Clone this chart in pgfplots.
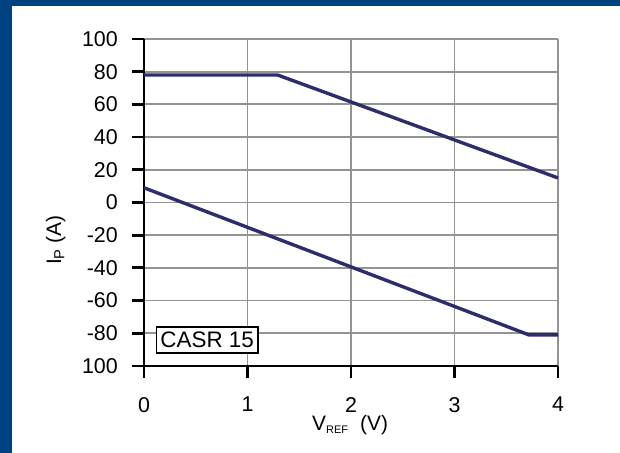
\documentclass[border=0pt]{standalone}
\usepackage{pgfplots}
\pgfplotsset{compat=1.18}
\usepackage{fontspec}
\setmainfont{Liberation Sans}
\definecolor{frameblue}{RGB}{0,66,128}
\definecolor{navy}{RGB}{45,45,110}
\begin{document}
\begin{tikzpicture}[x=1bp,y=1bp]
\useasboundingbox (0,0) rectangle (620,453);
\fill[white] (0,0) rectangle (620,453);
\fill[frameblue] (0,447) rectangle (620,453);
\fill[frameblue] (0,0) rectangle (12,453);
\begin{axis}[
  at={(144bp,87bp)}, anchor=south west,
  scale only axis, width=414bp, height=327bp,
  xmin=0, xmax=4, ymin=-100, ymax=100,
  axis lines=left, axis line style={-, black, line width=2.8bp},
  xtick={0,1,2,3,4}, xticklabels={0,1,2,3,4},
  ytick={-100,-80,-60,-40,-20,0,20,40,60,80,100},
  yticklabels={100,-80,-60,-40,-20,0,20,40,60,80,100},
  tick align=outside, major tick length=12bp,
  every tick/.style={black, line width=2.8bp},
  grid=major, major grid style={gray!85, line width=1.8bp},
  ticklabel style={font=\fontsize{21.5}{24}\selectfont},
  yticklabel style={anchor=east, inner sep=0pt, xshift=-14bp},
  xticklabel style={anchor=north, inner sep=0pt, yshift=-19bp},
  xlabel={V\textsubscript{\fontsize{11}{12}\selectfont REF}\ \ (V)},
  ylabel={I\textsubscript{P} (A)},
  label style={font=\fontsize{21}{24}\selectfont},
  xlabel style={at={(axis description cs:0.498,-0.196)}, anchor=base, inner sep=0pt},
  ylabel style={at={(axis description cs:-0.213,0.385)}, anchor=center, rotate=0, inner sep=0pt},
  clip=false,
]
\addplot[navy, line width=3.4bp] coordinates {(0,78) (1.29,78) (4,15)};
\addplot[navy, line width=3.4bp] coordinates {(0,9) (3.72,-81) (4,-81)};
\node[draw=black, line width=1.5bp, fill=white, anchor=center, inner xsep=4bp, inner ysep=5bp, font=\fontsize{22.5}{24}\selectfont] at (axis cs:0.61,-84) {CASR 15};
\end{axis}
\end{tikzpicture}
\end{document}
